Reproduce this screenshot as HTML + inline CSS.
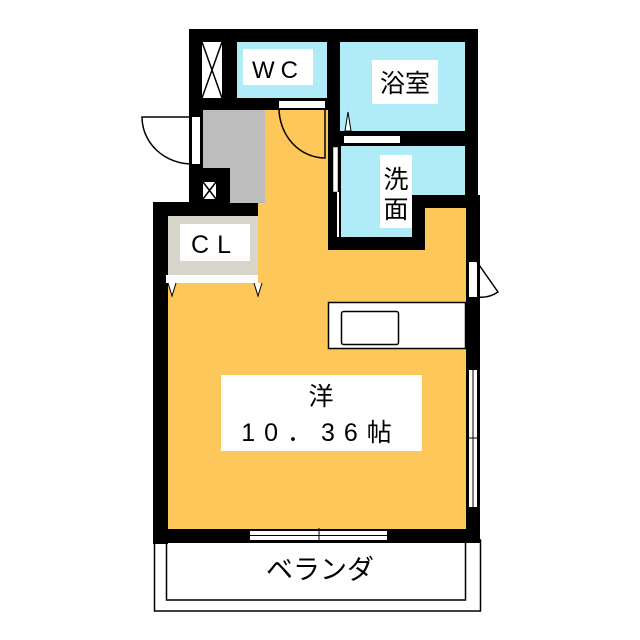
<!DOCTYPE html>
<html><head><meta charset="utf-8"><style>
html,body{margin:0;padding:0;background:#fff;}
svg{display:block;}
text{font-family:"Liberation Sans","Noto Sans CJK JP",sans-serif;fill:#000;}
</style></head><body>
<svg width="640" height="640" viewBox="0 0 640 640" xmlns="http://www.w3.org/2000/svg">
<rect x="154.5" y="540" width="326" height="71" fill="#fff" stroke="#000" stroke-width="1.5"/>
<rect x="166.5" y="540" width="299" height="60" fill="#fff" stroke="#000" stroke-width="1.5"/>
<text x="320" y="579" font-size="27" text-anchor="middle">ベランダ</text>
<rect x="189" y="29" width="289" height="82" fill="#000"/>
<rect x="189" y="29" width="14" height="174" fill="#000"/>
<rect x="189" y="167" width="41" height="36" fill="#000"/>
<rect x="153" y="202" width="120" height="90" fill="#000"/>
<rect x="153" y="202" width="15" height="342" fill="#000"/>
<rect x="153" y="529" width="327" height="14" fill="#000"/>
<rect x="465" y="29" width="13" height="180" fill="#000"/>
<rect x="466" y="195" width="14" height="348" fill="#000"/>
<rect x="328" y="98" width="14" height="152" fill="#000"/>
<rect x="328" y="237" width="97" height="13" fill="#000"/>
<rect x="412" y="195" width="68" height="55" fill="#000"/>
<rect x="328" y="130" width="140" height="16" fill="#000"/>
<polygon points="265,110 328,110 328,250 425,250 425,208 466,208 466,529 168,529 168,283 258,283 258,203 265,203" fill="#fdc75a"/>
<rect x="203" y="110" width="62" height="58" fill="#bdbdbd"/>
<rect x="230" y="167" width="35" height="36" fill="#bdbdbd"/>
<rect x="237" y="42" width="90" height="56" fill="#b0ecf8"/>
<rect x="243" y="49" width="70" height="36" fill="#fff"/>
<text x="278" y="78" font-size="24" text-anchor="middle" letter-spacing="6">WC</text>
<rect x="202" y="42" width="20" height="56" fill="#fff"/>
<path d="M202,42 L222,98 M222,42 L202,98" stroke="#000" stroke-width="1.5" fill="none"/>
<rect x="203" y="182" width="13" height="17" fill="#fff"/>
<path d="M203,182 L216,199 M216,182 L203,199" stroke="#000" stroke-width="1.5"/>
<rect x="340" y="42" width="125" height="89" fill="#b0ecf8"/>
<rect x="372" y="60" width="66" height="44" fill="#fff"/>
<text x="405" y="92" font-size="25" text-anchor="middle">浴室</text>
<rect x="341" y="146" width="124" height="49" fill="#b0ecf8"/>
<rect x="341" y="146" width="71" height="91" fill="#b0ecf8"/>
<rect x="380" y="155" width="32" height="73" fill="#fff"/>
<text x="396" y="188" font-size="25" text-anchor="middle">洗</text>
<text x="396" y="218" font-size="25" text-anchor="middle">面</text>
<rect x="168" y="216" width="90" height="59" fill="#d8d6ca"/>
<rect x="180" y="224" width="70" height="37" fill="#fff"/>
<text x="215" y="253" font-size="25" text-anchor="middle" letter-spacing="8">CL</text>
<rect x="166" y="275" width="92" height="8" fill="#fff"/>
<path d="M168,283 L172,296 L176,283 M254,283 L258,296 L262,283" fill="#fff" stroke="#000" stroke-width="1"/>
<rect x="192" y="117" width="8" height="47" fill="#fff"/>
<path d="M192,117 L142,117 A50,47 0 0 0 192,164" fill="none" stroke="#000" stroke-width="1.5"/>
<rect x="279" y="101" width="46" height="7" fill="#fff"/>
<path d="M325,108 L325,158 A46,50 0 0 1 279,108" fill="none" stroke="#000" stroke-width="1.5"/>
<rect x="344" y="136" width="56" height="7" fill="#fff"/>
<path d="M345,131 L348,112 L351,131 Z" fill="#fff" stroke="#000" stroke-width="1"/>
<rect x="333" y="147" width="5" height="45" fill="#fff" stroke="#000" stroke-width="0.5"/>
<line x1="338" y1="192" x2="338" y2="237" stroke="#fff" stroke-width="2"/>
<rect x="469" y="262" width="8" height="35" fill="#fff"/>
<path d="M477,262 L498,292 A30,30 0 0 1 477,297" fill="none" stroke="#000" stroke-width="1.5"/>
<rect x="328.5" y="302.5" width="137" height="46" fill="#fff" stroke="#000" stroke-width="1.5"/>
<rect x="341.5" y="311.5" width="57" height="33" rx="2" fill="#fff" stroke="#000" stroke-width="1.5"/>
<rect x="469" y="370" width="8" height="137" fill="#fff"/>
<line x1="473" y1="370" x2="473" y2="507" stroke="#000" stroke-width="1"/>
<line x1="468" y1="438" x2="480" y2="438" stroke="#000" stroke-width="1"/>
<rect x="250" y="531" width="137" height="9" fill="#fff"/>
<line x1="250" y1="535.5" x2="387" y2="535.5" stroke="#000" stroke-width="1"/>
<line x1="319" y1="528" x2="319" y2="543" stroke="#000" stroke-width="1"/>
<rect x="221" y="375" width="201" height="76" fill="#fff"/>
<text x="321" y="405" font-size="25" text-anchor="middle">洋</text>
<text x="321" y="441" font-size="25" text-anchor="middle" letter-spacing="9">10．36帖</text>
</svg>
</body></html>
